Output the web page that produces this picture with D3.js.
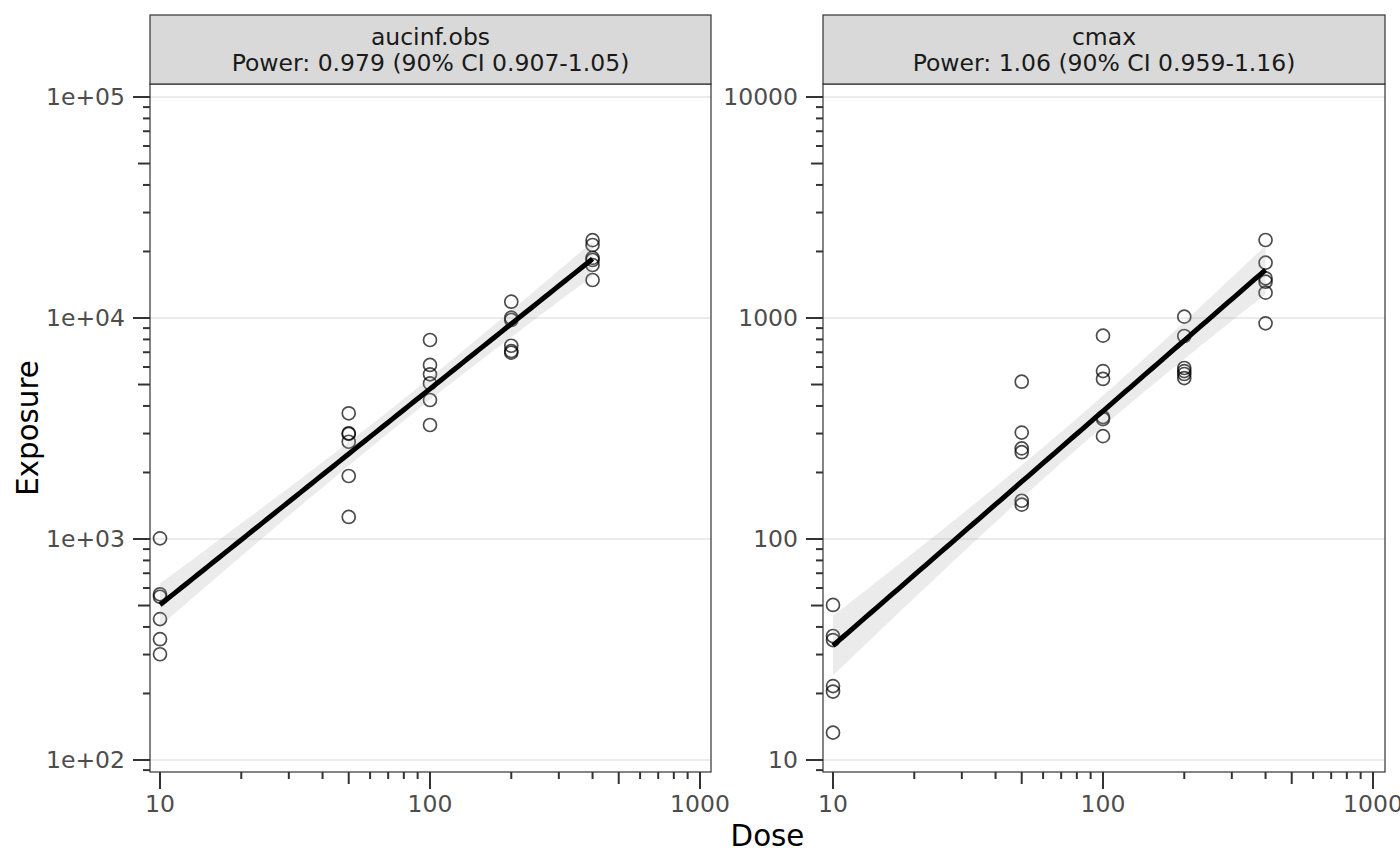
<!DOCTYPE html>
<html>
<head>
<meta charset="utf-8">
<script src="https://cdn.jsdelivr.net/npm/d3@7"></script>
<style>
  body { margin: 0; background: #fff; }
  text { font-family: "DejaVu Sans", sans-serif; }
</style>
</head>
<body>
<svg id="chart"></svg>
<script>
const width = 1400;
const height = 866;

// dose groups, 6 subjects each
const doseGroups = [10, 50, 100, 200, 400];

const aucinfObs = [
  [1007, 562, 548, 434, 352, 301],
  [3705, 3010, 2990, 2755, 1928, 1258],
  [7950, 6130, 5560, 5060, 4256, 3280],
  [11850, 10030, 9800, 7490, 7090, 6970],
  [22500, 21400, 18700, 18300, 17370, 14860]
];

const cmax = [
  [50.3, 36.4, 34.9, 21.6, 20.4, 13.3],
  [515, 303, 257, 247, 149, 143],
  [832, 575, 530, 356, 349, 292],
  [1014, 829, 594, 575, 558, 535],
  [2254, 1779, 1512, 1460, 1302, 946]
];

const panelNames = ["aucinf.obs", "cmax"];
const powerLabels = ["Power: 0.979 (90% CI 0.907-1.05)", "Power: 1.06 (90% CI 0.959-1.16)"];

const xTickValues = [10, 100, 1000];
const xTickLabels = ["10", "100", "1000"];
const yTickValues = [[100, 1000, 10000, 100000], [10, 100, 1000, 10000]];
const yTickLabels = [["1e+02", "1e+03", "1e+04", "1e+05"], ["10", "100", "1000", "10000"]];

const panels = [
  { name: panelNames[0], label: powerLabels[0], values: aucinfObs, left: 150, right: 711,
    xRange: [160, 700], yDomain: [100, 100000], yTicks: yTickValues[0], yLabels: yTickLabels[0] },
  { name: panelNames[1], label: powerLabels[1], values: cmax, left: 823, right: 1385,
    xRange: [833, 1373], yDomain: [10, 10000], yTicks: yTickValues[1], yLabels: yTickLabels[1] }
];

const panelTop = 84, panelBottom = 772, stripTop = 15;
const smallFont = 23.5, titleFont = 29.3;

const svg = d3.select("#chart")
  .attr("width", width)
  .attr("height", height);

// minimal lm on log10 scale with 95% confidence band (like geom_smooth(method = "lm"))
function fitLine(points) {
  const xs = points.map(p => Math.log10(p.dose));
  const ys = points.map(p => Math.log10(p.value));
  const n = xs.length;
  const mx = d3.mean(xs), my = d3.mean(ys);
  const sxx = d3.sum(xs, x => (x - mx) ** 2);
  const sxy = d3.sum(xs.map((x, i) => (x - mx) * (ys[i] - my)));
  const b = sxy / sxx, a = my - b * mx;
  const s = Math.sqrt(d3.sum(xs.map((x, i) => (ys[i] - a - b * x) ** 2)) / (n - 2));
  const t = 2.048; // qt(0.975, 28)
  const [lo, hi] = d3.extent(xs);
  return d3.range(0, 81).map(k => {
    const x = lo + (hi - lo) * k / 80;
    const se = s * Math.sqrt(1 / n + (x - mx) ** 2 / sxx);
    const f = a + b * x;
    return { dose: 10 ** x, fit: 10 ** f, lower: 10 ** (f - t * se), upper: 10 ** (f + t * se) };
  });
}

function logTicks(lo, hi) {
  const out = [];
  for (let e = Math.floor(Math.log10(lo)); e <= Math.ceil(Math.log10(hi)); e++) {
    for (let m = 1; m <= 9; m++) {
      const v = m * 10 ** e;
      if (v >= lo && v <= hi) out.push({ v, m });
    }
  }
  return out;
}

// long at 1, mid at 5, short elsewhere
const tickLen = m => m === 1 ? 17 : m === 5 ? 12 : 7;

panels.forEach(p => {
  const x = d3.scaleLog().domain([10, 1000]).range(p.xRange);
  const y = d3.scaleLog().domain(p.yDomain).range([760, 97]);
  const points = doseGroups.flatMap((d, i) => p.values[i].map(v => ({ dose: d, value: v })));

  const g = svg.append("g");

  g.selectAll(".grid")
    .data(p.yTicks)
    .enter()
    .append("line")
    .attr("x1", p.left).attr("x2", p.right)
    .attr("y1", d => y(d)).attr("y2", d => y(d))
    .attr("stroke", "#ebebeb")
    .attr("stroke-width", 2.2);

  g.selectAll(".pt")
    .data(points)
    .enter()
    .append("circle")
    .attr("cx", d => x(d.dose))
    .attr("cy", d => y(d.value))
    .attr("r", 6.5)
    .attr("fill", "none")
    .attr("stroke", "#000")
    .attr("stroke-opacity", 0.7)
    .attr("stroke-width", 1.7);

  const fit = fitLine(points);

  g.append("path")
    .datum(fit)
    .attr("fill", "#999999")
    .attr("fill-opacity", 0.2)
    .attr("d", d3.area()
      .x(d => x(d.dose))
      .y0(d => y(d.lower))
      .y1(d => y(d.upper)));

  g.append("path")
    .datum(fit)
    .attr("fill", "none")
    .attr("stroke", "#000")
    .attr("stroke-width", 5)
    .attr("d", d3.line()
      .x(d => x(d.dose))
      .y(d => y(d.fit)));

  g.append("rect")
    .attr("x", p.left).attr("y", panelTop)
    .attr("width", p.right - p.left).attr("height", panelBottom - panelTop)
    .attr("fill", "none")
    .attr("stroke", "#333")
    .attr("stroke-width", 1.2);

  // strip
  g.append("rect")
    .attr("x", p.left).attr("y", stripTop)
    .attr("width", p.right - p.left).attr("height", panelTop - stripTop)
    .attr("fill", "#d9d9d9")
    .attr("stroke", "#333")
    .attr("stroke-width", 1.2);

  const cx = (p.left + p.right) / 2;
  g.append("text")
    .attr("x", cx).attr("y", 45)
    .attr("text-anchor", "middle")
    .attr("font-size", smallFont)
    .attr("fill", "#1a1a1a")
    .text(p.name);
  g.append("text")
    .attr("x", cx).attr("y", 71)
    .attr("text-anchor", "middle")
    .attr("font-size", smallFont)
    .attr("fill", "#1a1a1a")
    .text(p.label);

  g.selectAll(".ytick")
    .data(logTicks(y.invert(panelBottom), y.invert(panelTop)))
    .enter()
    .append("line")
    .attr("x1", d => p.left - tickLen(d.m)).attr("x2", p.left)
    .attr("y1", d => y(d.v)).attr("y2", d => y(d.v))
    .attr("stroke", "#333")
    .attr("stroke-width", 2);

  g.selectAll(".ylab")
    .data(p.yTicks)
    .enter()
    .append("text")
    .attr("x", p.left - 25)
    .attr("y", d => y(d))
    .attr("dy", "0.36em")
    .attr("text-anchor", "end")
    .attr("font-size", smallFont)
    .attr("fill", "#4d4d4d")
    .text((d, i) => p.yLabels[i]);

  g.selectAll(".xtick")
    .data(logTicks(x.invert(p.left), x.invert(p.right)))
    .enter()
    .append("line")
    .attr("x1", d => x(d.v)).attr("x2", d => x(d.v))
    .attr("y1", panelBottom).attr("y2", d => panelBottom + tickLen(d.m))
    .attr("stroke", "#333")
    .attr("stroke-width", 2);

  g.selectAll(".xlab")
    .data(xTickValues)
    .enter()
    .append("text")
    .attr("x", d => x(d))
    .attr("y", 812)
    .attr("text-anchor", "middle")
    .attr("font-size", smallFont)
    .attr("fill", "#4d4d4d")
    .text((d, i) => xTickLabels[i]);
});

svg.append("text")
  .attr("x", (panels[0].left + panels[1].right) / 2)
  .attr("y", 846)
  .attr("text-anchor", "middle")
  .attr("font-size", titleFont)
  .attr("fill", "#000")
  .text("Dose");

svg.append("text")
  .attr("transform", `translate(38, ${(panelTop + panelBottom) / 2}) rotate(-90)`)
  .attr("text-anchor", "middle")
  .attr("font-size", titleFont)
  .attr("fill", "#000")
  .text("Exposure");
</script>
</body>
</html>
